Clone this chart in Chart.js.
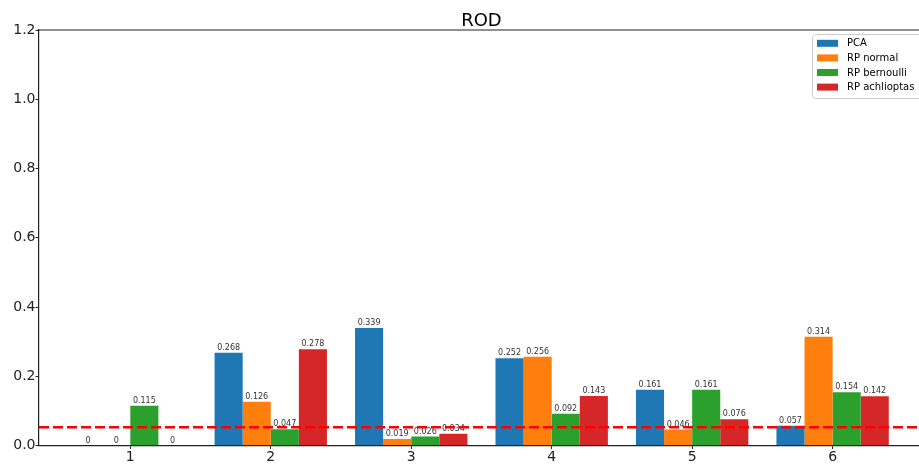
<!DOCTYPE html>
<html>
<head>
<meta charset="utf-8">
<script src="https://cdn.jsdelivr.net/npm/chart.js@4.4.1/dist/chart.umd.min.js"></script>
<style>
  html, body { margin: 0; padding: 0; background: #fff; overflow: hidden; }
  #wrap { width: 919px; height: 466px; position: relative; }
</style>
</head>
<body>
<div id="wrap"><canvas id="rodChart"></canvas></div>
<script>
/* ============ DATA ============ */
const categories = [1, 2, 3, 4, 5, 6];
const seriesNames = ['PCA', 'RP normal', 'RP bernoulli', 'RP achlioptas'];
const pcaValues = [0, 0.268, 0.339, 0.252, 0.161, 0.057];
const rpNormalValues = [0, 0.126, 0.019, 0.256, 0.046, 0.314];
const rpBernoulliValues = [0.115, 0.047, 0.026, 0.092, 0.161, 0.154];
const rpAchlioptasValues = [0, 0.278, 0.034, 0.143, 0.076, 0.142];
const yTickValues = [0, 0.2, 0.4, 0.6, 0.8, 1.0, 1.2];
const threshold = 0.053;
const chartTitle = 'ROD';

/* ============ STYLE ============ */
const FONT = "'DejaVu Sans', sans-serif";
const INK = '#222';
const colors = ['#1f77b4', '#ff7f0e', '#2ca02c', '#d62728'];
const allValues = [pcaValues, rpNormalValues, rpBernoulliValues, rpAchlioptasValues];

Chart.defaults.font.family = FONT;
Chart.defaults.color = INK;

/* ============ PLUGINS ============ */
// value text above every bar, dashed threshold, top spine, title, legend box
const decorations = {
  id: 'decorations',
  afterDatasetsDraw(chart) {
    const ctx = chart.ctx;
    const area = chart.chartArea;
    const y = chart.scales.y;

    // bar value labels
    ctx.save();
    ctx.font = '8px ' + FONT;
    ctx.fillStyle = '#333';
    ctx.textAlign = 'center';
    ctx.textBaseline = 'bottom';
    chart.data.datasets.forEach((ds, i) => {
      chart.getDatasetMeta(i).data.forEach((bar, j) => {
        ctx.fillText(String(ds.data[j].y), bar.x, bar.y - 1);
      });
    });
    ctx.restore();

    // dashed threshold line
    const ty = y.getPixelForValue(threshold);
    ctx.save();
    ctx.strokeStyle = '#ff0000';
    ctx.lineWidth = 2.5;
    ctx.setLineDash([10, 4]);
    ctx.beginPath();
    ctx.moveTo(area.left, ty);
    ctx.lineTo(area.right, ty);
    ctx.stroke();
    ctx.restore();
  },
  afterDraw(chart) {
    const ctx = chart.ctx;
    const area = chart.chartArea;
    const x = chart.scales.x;

    // top spine
    ctx.save();
    ctx.strokeStyle = INK;
    ctx.lineWidth = 1.2;
    ctx.beginPath();
    ctx.moveTo(area.left, area.top);
    ctx.lineTo(area.right, area.top);
    ctx.stroke();

    // title over the axes centre
    ctx.font = '18px ' + FONT;
    ctx.fillStyle = '#000';
    ctx.textAlign = 'center';
    ctx.textBaseline = 'alphabetic';
    ctx.fillText(chartTitle, x.getPixelForValue(3.5), 26);

    // legend
    const lx = 812, ly = 34, lh = 64;
    ctx.fillStyle = 'rgba(255,255,255,0.8)';
    ctx.strokeStyle = '#cccccc';
    ctx.lineWidth = 1;
    ctx.beginPath();
    ctx.roundRect(lx + 0.5, ly + 0.5, 120, lh, 3);
    ctx.fill();
    ctx.stroke();
    ctx.font = '10px ' + FONT;
    ctx.textAlign = 'left';
    ctx.textBaseline = 'middle';
    seriesNames.forEach((name, i) => {
      const cy = 43.3 + i * 14.6;
      ctx.fillStyle = colors[i];
      ctx.fillRect(817, cy - 3.5, 21, 7);
      ctx.fillStyle = '#000';
      ctx.fillText(name, 847, cy + 0.5);
    });
    ctx.restore();
  }
};

/* ============ CHART ============ */
new Chart(document.getElementById('rodChart'), {
  type: 'bar',
  data: {
    datasets: seriesNames.map((name, i) => ({
      label: name,
      data: categories.map((c, j) => ({ x: c, y: allValues[i][j] })),
      backgroundColor: colors[i],
      borderWidth: 0,
      categoryPercentage: 0.8,
      barPercentage: 1.0
    }))
  },
  options: {
    responsive: true, maintainAspectRatio: false,
    animation: false,
    layout: { padding: { top: 30, right: 0, left: 0, bottom: 0 } },
    plugins: { legend: { display: false }, tooltip: { enabled: false } },
    scales: {
      x: {
        type: 'linear',
        offset: false,
        min: 0.35, max: 6.615,
        afterBuildTicks: s => { s.ticks = categories.map(v => ({ value: v })); },
        afterFit: s => { s.height = 20.5; },
        grid: { offset: false, drawOnChartArea: false, drawTicks: true, tickLength: 3.5, color: INK },
        border: { display: true, color: INK, width: 1.2 },
        ticks: { font: { size: 14 }, color: INK, padding: 0, maxRotation: 0 }
      },
      y: {
        min: 0, max: 1.2,
        afterBuildTicks: s => { s.ticks = yTickValues.map(v => ({ value: v })); },
        afterFit: s => { s.width = 39; },
        grid: { drawOnChartArea: false, drawTicks: true, tickLength: 3.5, color: INK },
        border: { display: true, color: INK, width: 1.2 },
        ticks: { font: { size: 14 }, color: INK, padding: 0, callback: v => v.toFixed(1) }
      }
    }
  },
  plugins: [decorations]
});
</script>
</body>
</html>
